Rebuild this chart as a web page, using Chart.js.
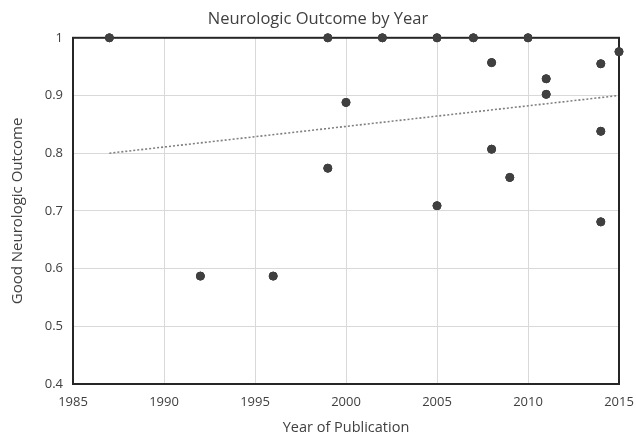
<!DOCTYPE html>
<html>
<head>
<meta charset="utf-8">
<script src="https://cdn.jsdelivr.net/npm/chart.js@4/dist/chart.umd.min.js"></script>
<style>
  html, body { margin: 0; padding: 0; background: #ffffff; }
  #wrap { width: 636px; height: 437px; }
</style>
</head>
<body>
<div id="wrap"><canvas id="outcome-chart"></canvas></div>
<script>
// Study year and proportion with good neurologic outcome
const years = [1987, 1992, 1996, 1999, 1999, 2000, 2002, 2005, 2005, 2007, 2008, 2008, 2009, 2010, 2011, 2011, 2014, 2014, 2014, 2015];
const outcomes = [1.0, 0.587, 0.587, 1.0, 0.774, 0.888, 1.0, 1.0, 0.709, 1.0, 0.957, 0.807, 0.758, 1.0, 0.929, 0.902, 0.955, 0.838, 0.681, 0.976];

// Linear trend line endpoints
const trendYears = [1987, 2015];
const trendValues = [0.80, 0.90];

const xTicks = [1985, 1990, 1995, 2000, 2005, 2010, 2015];
const yTicks = [0.4, 0.5, 0.6, 0.7, 0.8, 0.9, 1];

const FONT = "'Open Sans', 'Liberation Sans', sans-serif";
const TEXT = "#404040";

// Draws the dark frame round the plot area
const framePlugin = {
  id: "frame",
  afterDatasetsDraw(chart) {
    const { ctx, chartArea } = chart;
    ctx.save();
    ctx.strokeStyle = "#262626";
    ctx.lineWidth = 2;
    ctx.strokeRect(chartArea.left, chartArea.top, chartArea.right - chartArea.left, chartArea.bottom - chartArea.top);
    ctx.restore();
  },
};

// Redraw points above the frame
const pointsOnTop = {
  id: "pointsOnTop",
  afterDraw(chart) {
    const meta = chart.getDatasetMeta(1);
    meta.data.forEach((pt) => pt.draw(chart.ctx));
  },
};

const ctx = document.getElementById("outcome-chart");

new Chart(ctx, {
  type: "scatter",
  data: {
    datasets: [
      {
        type: "line",
        data: trendYears.map((x, i) => ({ x: x, y: trendValues[i] })),
        borderColor: "#7f7f7f",
        borderWidth: 1.6,
        borderDash: [2, 2],
        pointRadius: 0,
        fill: false,
      },
      {
        data: years.map((x, i) => ({ x: x, y: outcomes[i] })),
        backgroundColor: "#404040",
        borderColor: "#404040",
        pointRadius: 4,
        pointHoverRadius: 4,
        clip: false,
      },
    ],
  },
  plugins: [framePlugin, pointsOnTop],
  options: {
    responsive: true,
    maintainAspectRatio: false,
    animation: false,
    layout: {
      padding: { left: 0, right: 0, top: 0, bottom: 0 },
    },
    plugins: {
      legend: { display: false },
      tooltip: { enabled: false },
      title: {
        display: true,
        text: "Neurologic Outcome by Year",
        color: TEXT,
        font: { family: FONT, size: 16.5, weight: "normal" },
        padding: { top: 9, bottom: 9 },
      },
    },
    scales: {
      x: {
        type: "linear",
        min: xTicks[0],
        max: xTicks[xTicks.length - 1],
        afterBuildTicks: (scale) => {
          scale.ticks = xTicks.map((v) => ({ value: v }));
        },
        afterFit: (scale) => {
          scale.height = 53;
          scale.paddingLeft = 0;
          scale.paddingRight = 17;
        },
        ticks: {
          color: TEXT,
          font: { family: FONT, size: 13 },
          padding: 10,
          callback: (value) => String(value),
        },
        grid: { color: "#d9d9d9", drawTicks: false },
        border: { display: false },
        title: {
          display: true,
          text: "Year of Publication",
          color: TEXT,
          font: { family: FONT, size: 14.5 },
          padding: { top: 4, bottom: 0 },
        },
      },
      y: {
        min: yTicks[0],
        max: yTicks[yTicks.length - 1],
        afterBuildTicks: (scale) => {
          scale.ticks = yTicks.map((v) => ({ value: v }));
        },
        afterFit: (scale) => {
          scale.width = 73;
          scale.paddingTop = 0;
          scale.paddingBottom = 0;
        },
        ticks: {
          color: TEXT,
          font: { family: FONT, size: 13 },
          padding: 10,
          callback: (value) => String(Math.round(value * 10) / 10),
        },
        grid: { color: "#d9d9d9", drawTicks: false },
        border: { display: false },
        title: {
          display: true,
          text: "Good Neurologic Outcome",
          color: TEXT,
          font: { family: FONT, size: 15 },
          padding: { top: 9, bottom: 4 },
        },
      },
    },
  },
});
</script>
</body>
</html>
